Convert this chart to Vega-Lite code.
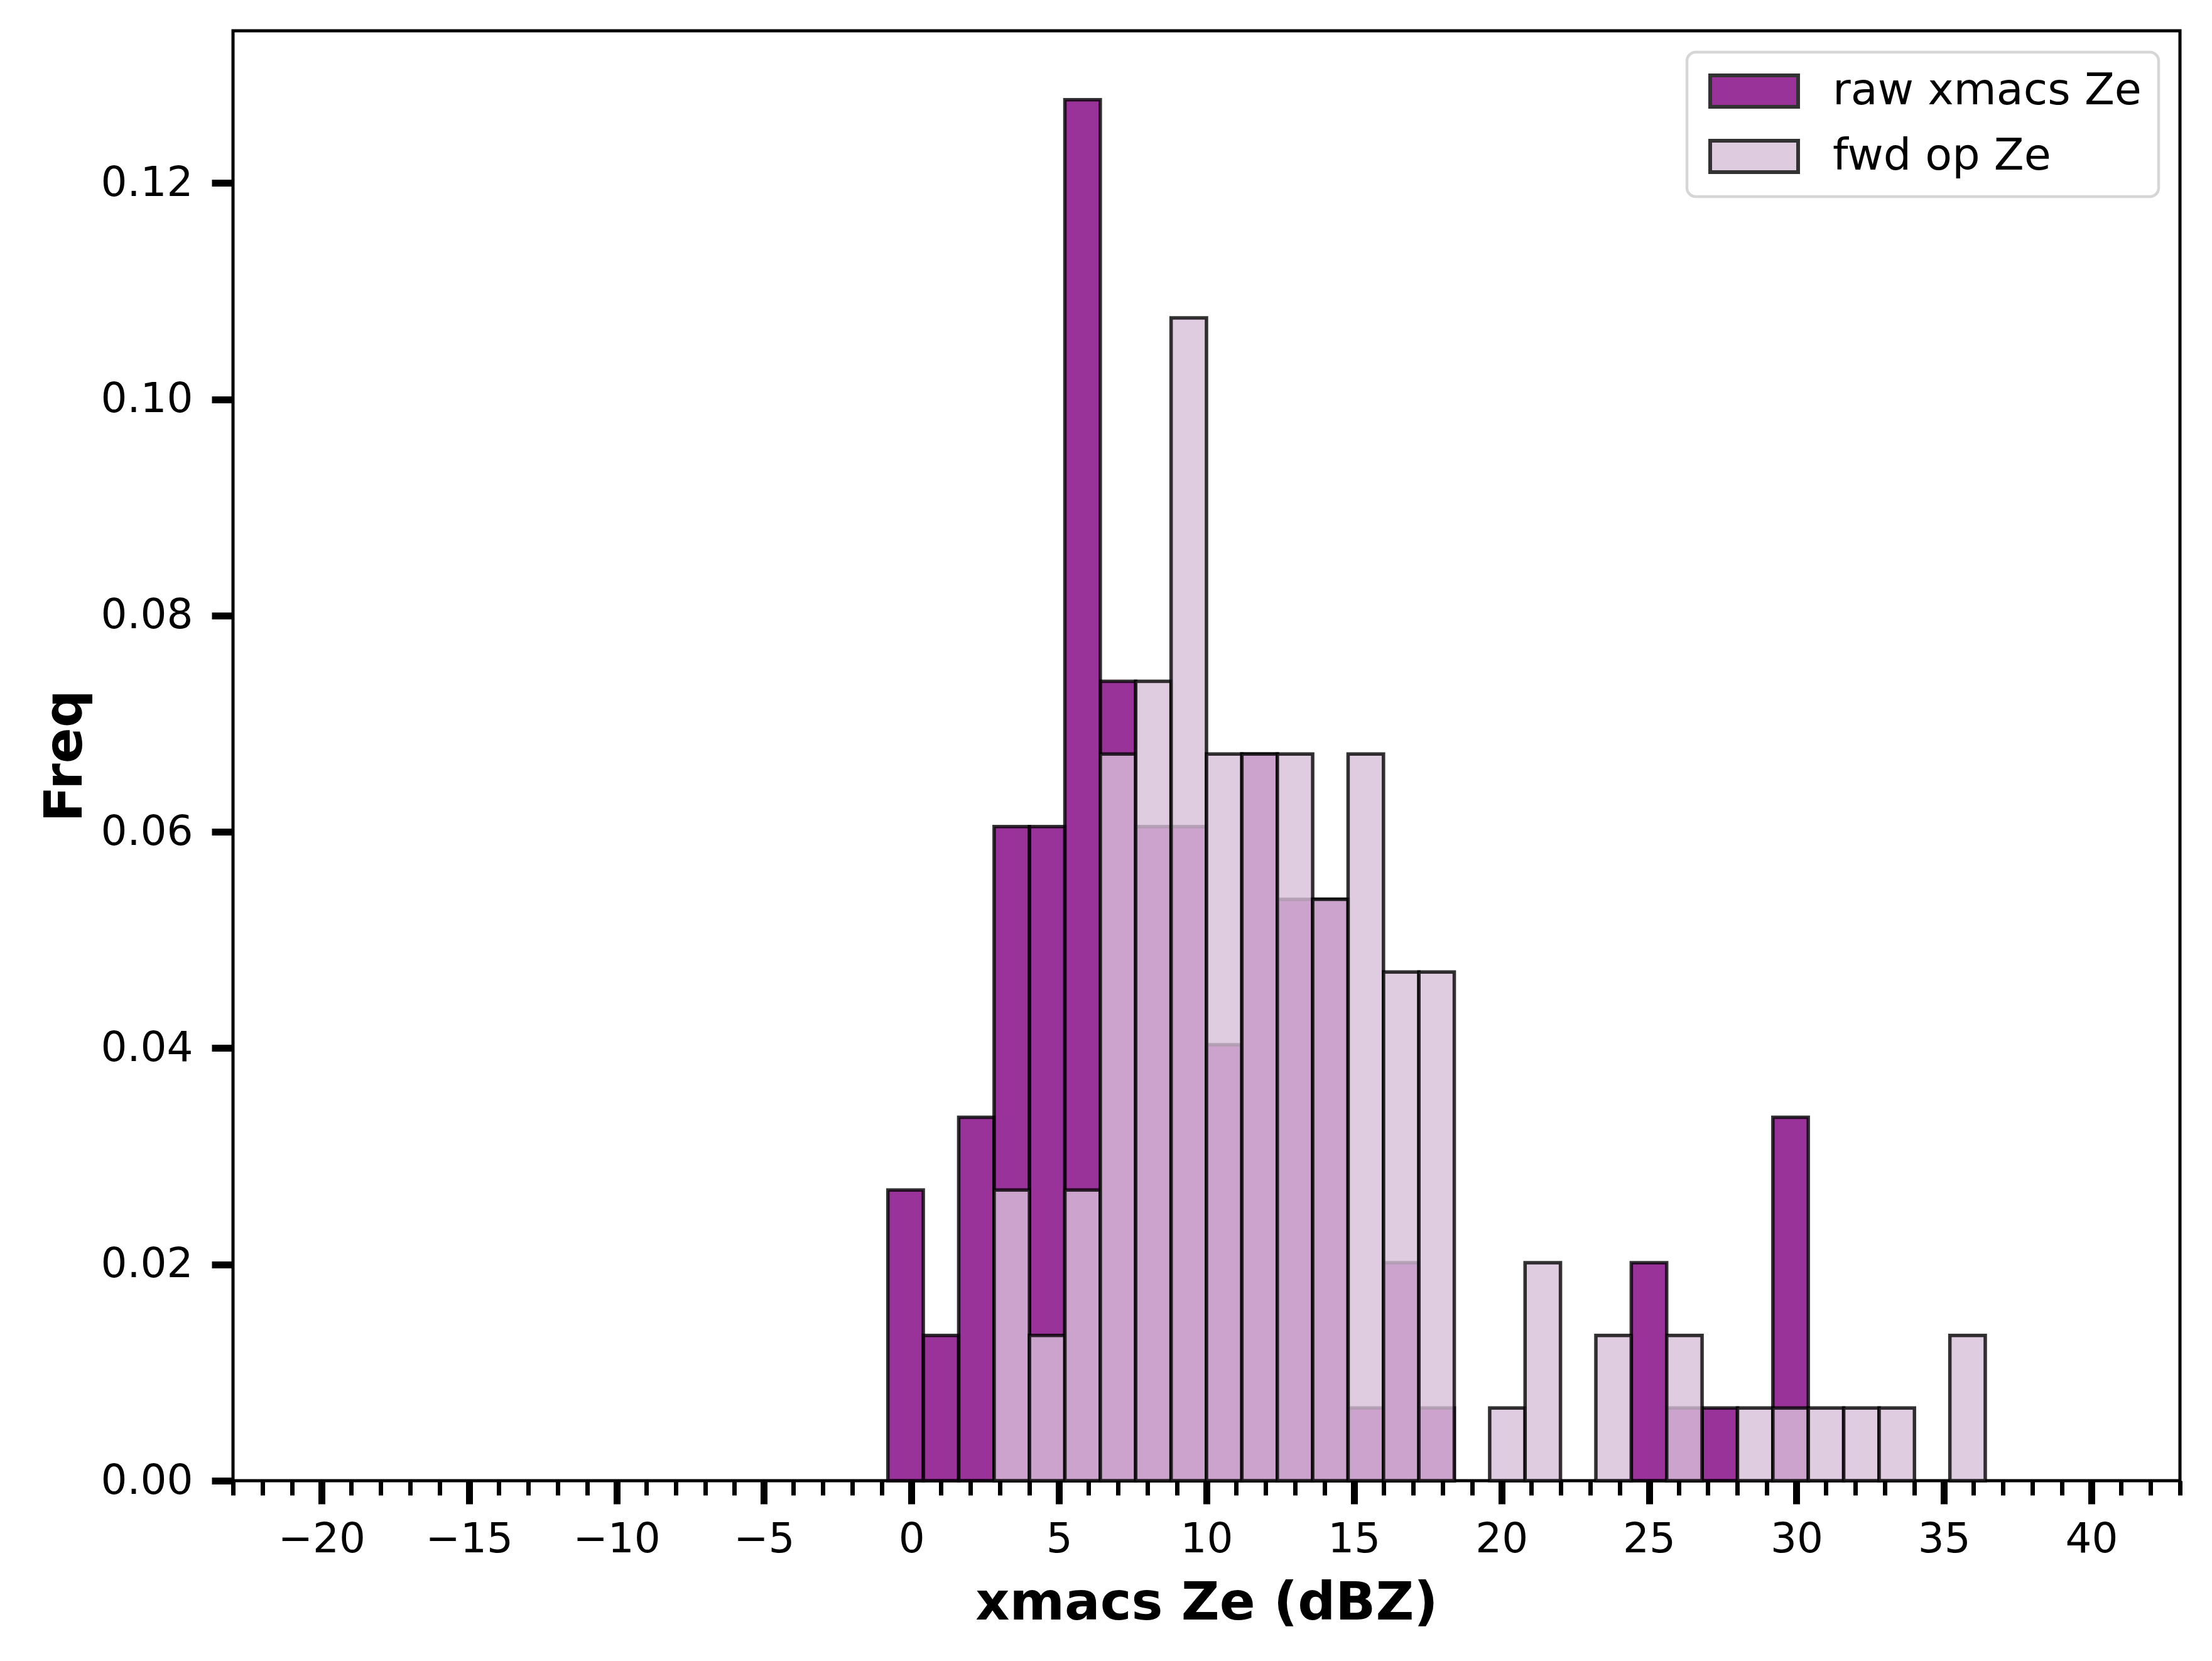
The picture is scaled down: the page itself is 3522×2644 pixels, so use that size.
{
  "$schema": "https://vega.github.io/schema/vega-lite/v6.json",
  "width": 3100,
  "height": 2308,
  "autosize": {"type": "none"},
  "padding": {"left": 371, "top": 49, "right": 51, "bottom": 287},
  "background": "white",
  "config": {
    "font": "DejaVu Sans",
    "view": {"stroke": "black", "strokeWidth": 5},
    "axis": {"domain": false, "grid": false, "tickColor": "black", "labelColor": "black", "titleColor": "black", "labelFont": "DejaVu Sans", "titleFont": "DejaVu Sans"}
  },
  "data": {
    "values": [
      {"series": "raw xmacs Ze", "x0": -0.8, "x1": 0.4, "freq": 0.02688},
      {"series": "raw xmacs Ze", "x0": 0.4, "x1": 1.6, "freq": 0.01344},
      {"series": "raw xmacs Ze", "x0": 1.6, "x1": 2.8, "freq": 0.03360},
      {"series": "raw xmacs Ze", "x0": 2.8, "x1": 4.0, "freq": 0.06048},
      {"series": "raw xmacs Ze", "x0": 4.0, "x1": 5.2, "freq": 0.06048},
      {"series": "raw xmacs Ze", "x0": 5.2, "x1": 6.4, "freq": 0.12769},
      {"series": "raw xmacs Ze", "x0": 6.4, "x1": 7.6, "freq": 0.07392},
      {"series": "raw xmacs Ze", "x0": 7.6, "x1": 8.8, "freq": 0.06048},
      {"series": "raw xmacs Ze", "x0": 8.8, "x1": 10.0, "freq": 0.06048},
      {"series": "raw xmacs Ze", "x0": 10.0, "x1": 11.2, "freq": 0.04032},
      {"series": "raw xmacs Ze", "x0": 11.2, "x1": 12.4, "freq": 0.06720},
      {"series": "raw xmacs Ze", "x0": 12.4, "x1": 13.6, "freq": 0.05376},
      {"series": "raw xmacs Ze", "x0": 13.6, "x1": 14.8, "freq": 0.05376},
      {"series": "raw xmacs Ze", "x0": 14.8, "x1": 16.0, "freq": 0.00672},
      {"series": "raw xmacs Ze", "x0": 16.0, "x1": 17.2, "freq": 0.02016},
      {"series": "raw xmacs Ze", "x0": 17.2, "x1": 18.4, "freq": 0.00672},
      {"series": "raw xmacs Ze", "x0": 24.4, "x1": 25.6, "freq": 0.02016},
      {"series": "raw xmacs Ze", "x0": 25.6, "x1": 26.8, "freq": 0.00672},
      {"series": "raw xmacs Ze", "x0": 26.8, "x1": 28.0, "freq": 0.00672},
      {"series": "raw xmacs Ze", "x0": 29.2, "x1": 30.4, "freq": 0.03360},
      {"series": "fwd op Ze", "x0": 2.8, "x1": 4.0, "freq": 0.02688},
      {"series": "fwd op Ze", "x0": 4.0, "x1": 5.2, "freq": 0.01344},
      {"series": "fwd op Ze", "x0": 5.2, "x1": 6.4, "freq": 0.02688},
      {"series": "fwd op Ze", "x0": 6.4, "x1": 7.6, "freq": 0.06720},
      {"series": "fwd op Ze", "x0": 7.6, "x1": 8.8, "freq": 0.07392},
      {"series": "fwd op Ze", "x0": 8.8, "x1": 10.0, "freq": 0.10753},
      {"series": "fwd op Ze", "x0": 10.0, "x1": 11.2, "freq": 0.06720},
      {"series": "fwd op Ze", "x0": 11.2, "x1": 12.4, "freq": 0.06720},
      {"series": "fwd op Ze", "x0": 12.4, "x1": 13.6, "freq": 0.06720},
      {"series": "fwd op Ze", "x0": 13.6, "x1": 14.8, "freq": 0.05376},
      {"series": "fwd op Ze", "x0": 14.8, "x1": 16.0, "freq": 0.06720},
      {"series": "fwd op Ze", "x0": 16.0, "x1": 17.2, "freq": 0.04704},
      {"series": "fwd op Ze", "x0": 17.2, "x1": 18.4, "freq": 0.04704},
      {"series": "fwd op Ze", "x0": 19.6, "x1": 20.8, "freq": 0.00672},
      {"series": "fwd op Ze", "x0": 20.8, "x1": 22.0, "freq": 0.02016},
      {"series": "fwd op Ze", "x0": 23.2, "x1": 24.4, "freq": 0.01344},
      {"series": "fwd op Ze", "x0": 25.6, "x1": 26.8, "freq": 0.01344},
      {"series": "fwd op Ze", "x0": 28.0, "x1": 29.2, "freq": 0.00672},
      {"series": "fwd op Ze", "x0": 29.2, "x1": 30.4, "freq": 0.00672},
      {"series": "fwd op Ze", "x0": 30.4, "x1": 31.6, "freq": 0.00672},
      {"series": "fwd op Ze", "x0": 31.6, "x1": 32.8, "freq": 0.00672},
      {"series": "fwd op Ze", "x0": 32.8, "x1": 34.0, "freq": 0.00672},
      {"series": "fwd op Ze", "x0": 35.2, "x1": 36.4, "freq": 0.01344}
    ]
  },
  "mark": {"type": "bar", "stroke": "black", "strokeWidth": 5.5, "strokeOpacity": 0.8, "fillOpacity": 0.8, "cornerRadius": 0},
  "encoding": {
    "x": {
      "field": "x0", "type": "quantitative",
      "scale": {"domain": [-23, 43], "nice": false, "zero": false},
      "axis": {
        "title": "xmacs Ze (dBZ)",
        "titleFontSize": 84, "titleFontWeight": "bold", "titlePadding": 28,
        "values": [-23,-22,-21,-20,-19,-18,-17,-16,-15,-14,-13,-12,-11,-10,-9,-8,-7,-6,-5,-4,-3,-2,-1,0,1,2,3,4,5,6,7,8,9,10,11,12,13,14,15,16,17,18,19,20,21,22,23,24,25,26,27,28,29,30,31,32,33,34,35,36,37,38,39,40,41,42,43],
        "format": "d",
        "labelExpr": "datum.value % 5 === 0 ? datum.label : ''",
        "labelFontSize": 66, "labelPadding": 24, "labelOverlap": false, "labelFlush": false,
        "tickSize": {"condition": {"test": "datum.value % 5 === 0", "value": 37}, "value": 23},
        "tickWidth": {"condition": {"test": "datum.value % 5 === 0", "value": 11}, "value": 7}
      }
    },
    "x2": {"field": "x1"},
    "y": {
      "field": "freq", "type": "quantitative", "stack": null,
      "scale": {"domain": [0, 0.13407], "nice": false, "zero": true},
      "axis": {
        "title": "Freq",
        "titleFontSize": 84, "titleFontWeight": "bold", "titlePadding": 24,
        "values": [0, 0.02, 0.04, 0.06, 0.08, 0.1, 0.12],
        "format": ".2f",
        "labelFontSize": 66, "labelPadding": 30,
        "tickSize": 34, "tickWidth": 11
      }
    },
    "y2": {"datum": 0},
    "color": {
      "field": "series", "type": "nominal",
      "scale": {"domain": ["raw xmacs Ze", "fwd op Ze"], "range": ["purple", "thistle"]},
      "legend": {
        "title": null,
        "orient": "top-right",
        "offset": 34,
        "padding": 27,
        "fillColor": "white",
        "strokeColor": "#d6d6d6",
        "cornerRadius": 14,
        "symbolType": "M-1,-1H4.6V1H-1Z",
        "symbolSize": 2500,
        "symbolStrokeColor": "black",
        "symbolStrokeWidth": 6,
        "symbolOpacity": 0.8,
        "labelFontSize": 70,
        "labelFont": "DejaVu Sans",
        "labelColor": "black",
        "labelOffset": 135,
        "labelLimit": 1200,
        "rowPadding": 30,
        "encode": {"legend": {"update": {"strokeWidth": {"value": 4.5}}}}
      }
    }
  }
}
